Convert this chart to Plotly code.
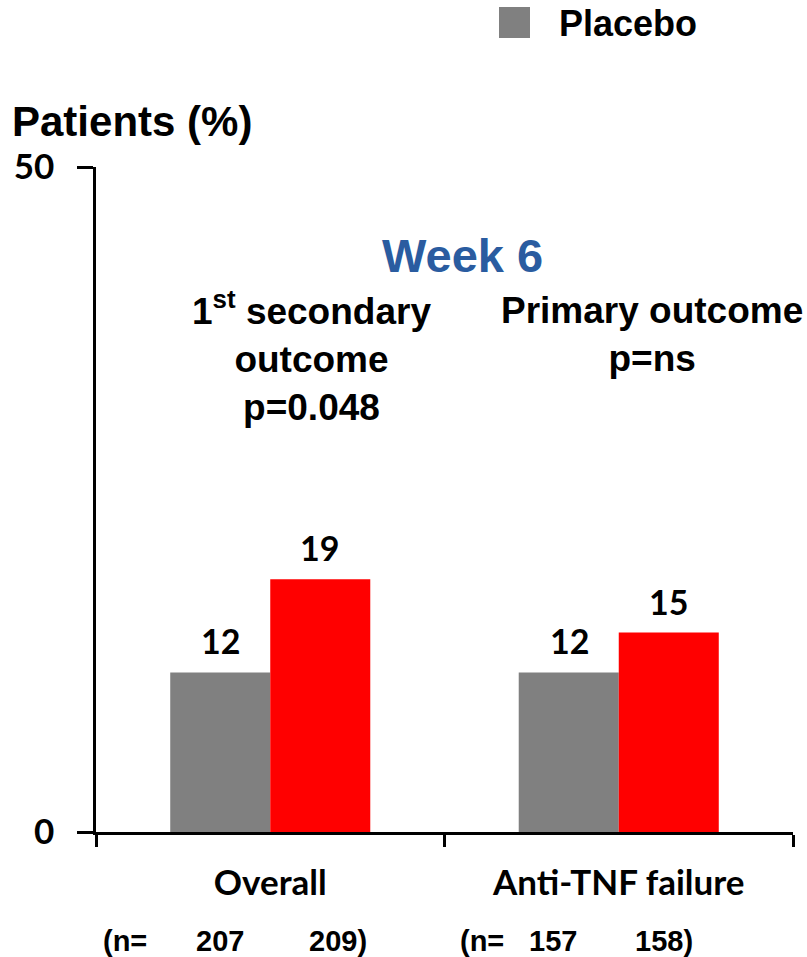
import plotly.graph_objects as go

# Week 6 response rates by population
categories = ["Overall", "Anti-TNF failure"]
placebo = [12, 12]
active = [19, 15]
n_placebo = [207, 157]
n_active = [209, 158]

W, H = 807, 957
L, R, T, B = 96, 14, 167, 125
PW, PH = W - L - R, H - T - B


def px(x):
    return (x - L) / PW


def py(y):
    return (H - B - y) / PH


GRAY = "#808080"
RED = "#FF0000"
ARIAL = "Liberation Sans, Arial, sans-serif"
CAL = "Lato, Carlito, sans-serif"


def label(x, y, text, font, xanchor="center", yanchor="middle"):
    return dict(x=px(x), y=py(y), xref="paper", yref="paper", text=text,
                showarrow=False, xanchor=xanchor, yanchor=yanchor, font=font)


fig = go.Figure()
fig.add_trace(go.Bar(x=categories, y=placebo, name="Placebo",
                     marker=dict(color=GRAY, line=dict(width=0)), showlegend=False))
fig.add_trace(go.Bar(x=categories, y=active, name="Vedolizumab",
                     marker=dict(color=RED, line=dict(width=0)), showlegend=False))

ann = []
# value labels above each bar
val_font = dict(family=CAL, size=34, color="black")
for cat, v in zip(categories, placebo):
    ann.append(dict(x=cat, y=v, xref="x", yref="y", xshift=-49.5, yshift=9,
                    xanchor="center", yanchor="bottom", text=f"<b>{v}</b>",
                    showarrow=False, font=val_font))
for cat, v in zip(categories, active):
    ann.append(dict(x=cat, y=v, xref="x", yref="y", xshift=49.5, yshift=9,
                    xanchor="center", yanchor="bottom", text=f"<b>{v}</b>",
                    showarrow=False, font=val_font))

# sample sizes under the category labels
n_font = dict(family=ARIAL, size=29, color="black")
n_rows = [(125, 220, 337.5), (482, 553, 663.5)]
for (xo, xp, xa), npl, nac in zip(n_rows, n_placebo, n_active):
    ann.append(label(xo, 941, "<b>(n=</b>", n_font))
    ann.append(label(xp, 941, f"<b>{npl}</b>", n_font))
    ann.append(label(xa, 941, f"<b>{nac})</b>", n_font))

# headings inside the plot
ann.append(label(462, 255, "<b>Week 6</b>",
                 dict(family=ARIAL, size=47, color="#2A5CA0")))
ann.append(label(311, 356, "<b>1<sup>st</sup> secondary<br>outcome<br>p=0.048</b>",
                 dict(family=ARIAL, size=37, color="black")))
ann.append(label(652, 334, "<b>Primary outcome<br>p=ns</b>",
                 dict(family=ARIAL, size=37, color="black")))

# axis title
ann.append(label(10, 122, "<b>Patients (%)</b>",
                 dict(family=ARIAL, size=42, color="black"), xanchor="left"))

# legend entry
ann.append(label(557, 23, "<b>Placebo</b>",
                 dict(family=ARIAL, size=36, color="black"), xanchor="left"))
fig.add_shape(type="rect", xref="paper", yref="paper",
              x0=px(499), x1=px(530), y0=py(38), y1=py(7),
              fillcolor=GRAY, line=dict(width=0))

fig.update_layout(
    width=W, height=H,
    margin=dict(l=L, r=R, t=T, b=B),
    paper_bgcolor="white", plot_bgcolor="white",
    barmode="group", bargap=0.426, bargroupgap=0,
    annotations=ann,
    xaxis=dict(type="category", showline=True, linecolor="black", linewidth=2.5,
               ticks="outside", tickson="boundaries", ticklen=12, tickwidth=2.5,
               tickcolor="black", showgrid=False, zeroline=False,
               tickvals=categories, ticktext=[f"<b>{c}</b>" for c in categories],
               tickfont=dict(family=CAL, size=35, color="black"),
               ticklabelstandoff=18, range=[-0.5, 1.5]),
    yaxis=dict(range=[0, 50], tickvals=[0, 50], ticktext=["<b>0</b>", "<b>50</b>"],
               showline=True, linecolor="black", linewidth=2.5,
               ticks="outside", ticklen=16, tickwidth=2.5, tickcolor="black",
               showgrid=False, zeroline=False, ticklabelstandoff=16,
               tickfont=dict(family=CAL, size=35, color="black")),
)

fig.write_html("out.html")
